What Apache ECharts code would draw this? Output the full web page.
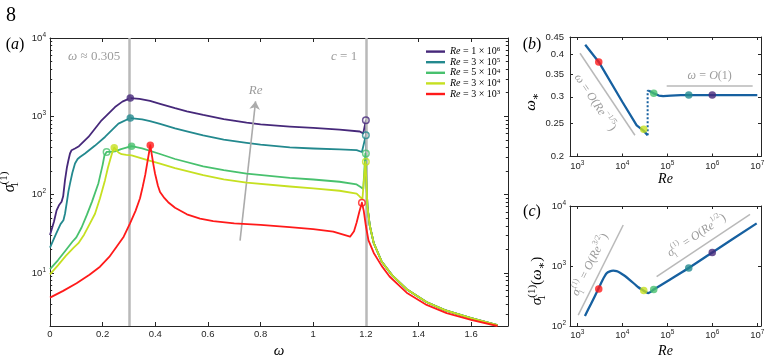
<!DOCTYPE html>
<html><head><meta charset="utf-8">
<script src="https://cdn.jsdelivr.net/npm/echarts@6/dist/echarts.min.js"></script>
<style>html,body{margin:0;padding:0;background:#fff}#c{width:777px;height:362px}</style>
</head><body><div id="c"></div>
<script>
// ================= DATA =================
const COLORS = ['#46287a', '#23898e', '#48c16e', '#c6e021', '#ff1a1a'];
const reMantissa = [1, 3, 5, 3, 3];
const reExponent = [6, 5, 4, 4, 3];

// panel (a): sigma_1^(1) vs omega, one list of [omega, sigma] per Re
const curveRe1e6 = [[0,30.5],[0.015,45],[0.025,63],[0.034,73],[0.044,81],[0.05,95],[0.057,153],[0.064,220],[0.07,275],[0.076,335],[0.082,369],[0.095,388],[0.11,415],[0.146,545],[0.196,889],[0.247,1313],[0.275,1540],[0.305,1710],[0.34,1670],[0.38,1570],[0.418,1440],[0.475,1270],[0.52,1160],[0.582,1040],[0.66,920],[0.747,830],[0.8,790],[0.911,740],[1.0,710],[1.1,675],[1.177,640],[1.19,605],[1.2,889],[1.202,150],[1.206,70],[1.215,40],[1.23,24],[1.26,14],[1.3,9.3],[1.355,6.2],[1.43,4.25],[1.5,3.35],[1.6,2.65],[1.7,2.15]];
const curveRe3e5 = [[0,21],[0.02,30],[0.04,42],[0.051,47],[0.057,57],[0.064,80],[0.07,110],[0.076,138],[0.085,190],[0.095,250],[0.105,285],[0.114,302],[0.133,335],[0.17,420],[0.209,545],[0.26,807],[0.305,950],[0.35,915],[0.38,870],[0.418,800],[0.475,700],[0.52,640],[0.582,570],[0.66,505],[0.747,458],[0.8,435],[0.911,402],[1.0,388],[1.1,378],[1.165,370],[1.185,350],[1.2,573],[1.202,150],[1.206,70],[1.215,40],[1.23,24],[1.26,14],[1.3,9.3],[1.355,6.2],[1.43,4.25],[1.5,3.35],[1.6,2.65],[1.7,2.15]];
const curveRe5e4 = [[0,11.2],[0.03,14.5],[0.06,19.5],[0.085,25],[0.1,28.5],[0.12,38],[0.14,55],[0.16,82],[0.184,140],[0.2,240],[0.207,318],[0.215,351],[0.23,352],[0.247,356],[0.27,380],[0.31,415],[0.35,390],[0.418,330],[0.475,285],[0.582,230],[0.66,205],[0.747,185],[0.911,164],[1.0,156],[1.1,146],[1.165,135],[1.18,125],[1.19,118],[1.198,335],[1.202,150],[1.206,70],[1.215,40],[1.23,24],[1.26,14],[1.3,9.3],[1.355,6.2],[1.43,4.25],[1.5,3.35],[1.6,2.65],[1.7,2.15]];
const curveRe3e4 = [[0,9.6],[0.03,12.5],[0.06,16.5],[0.09,21],[0.108,24],[0.13,31],[0.152,43],[0.171,57],[0.19,90],[0.209,153],[0.22,220],[0.228,275],[0.236,340],[0.244,398],[0.26,345],[0.272,328],[0.29,322],[0.31,318],[0.361,282],[0.418,248],[0.475,218],[0.582,178],[0.66,157],[0.747,142],[0.911,127],[1.0,120],[1.1,112],[1.165,103],[1.177,94],[1.187,88],[1.198,262],[1.202,150],[1.206,70],[1.215,40],[1.23,24],[1.26,14],[1.3,9.3],[1.355,6.2],[1.43,4.25],[1.5,3.35],[1.6,2.65],[1.7,2.15]];
const curveRe3e3 = [[0,4.84],[0.05,5.9],[0.101,7.4],[0.15,9.5],[0.19,12],[0.225,16],[0.253,21.6],[0.28,29],[0.304,43],[0.325,62],[0.342,90],[0.352,125],[0.362,180],[0.37,260],[0.376,340],[0.381,427],[0.387,320],[0.393,240],[0.399,186],[0.41,130],[0.418,108],[0.435,90],[0.449,80],[0.475,68],[0.52,56],[0.57,49.5],[0.62,46],[0.7,43],[0.8,41],[0.91,38.5],[1.0,36.3],[1.076,33.6],[1.14,29],[1.155,34],[1.165,44],[1.175,60],[1.185,79],[1.192,62],[1.2,40],[1.21,26],[1.23,18],[1.26,12.3],[1.29,9],[1.355,5.6],[1.431,3.9],[1.507,3.07],[1.6,2.52],[1.7,2.1]];
const curvesA = [curveRe1e6, curveRe3e5, curveRe5e4, curveRe3e4, curveRe3e3];

// filled markers (omega_*), open markers (c = 1 and others)
const peakOmega = [0.305, 0.305, 0.31, 0.244, 0.381];
const peakSigma = [1710, 950, 415, 398, 427];
const openOmega = [1.2, 1.2, 1.2, 1.2, 1.185, 0.215];
const openSigma = [889, 573, 335, 262, 79, 351];
const openColorIdx = [0, 1, 2, 3, 4, 2];

// annotations panel (a)
const refLinesOmega = [0.305, 1.2];
const reArrowStart = [0.722, 25.8];
const reArrowEnd = [0.781, 1552];

// panel (b): omega_* vs Re
const bReSolid1 = [1500, 3000, 10000, 20900, 30000, 36600];
const bOmegaSolid1 = [0.427, 0.38, 0.29, 0.247, 0.238, 0.231];
const bReDotted = [36600, 36600, 39000];
const bOmegaDotted = [0.231, 0.3125, 0.3125];
const bReSolid2 = [39000, 50000, 65000, 81000, 120000, 200000, 300000, 1000000, 10000000];
const bOmegaSolid2 = [0.3125, 0.307, 0.3025, 0.3013, 0.3025, 0.3034, 0.3035, 0.3035, 0.3035];
const bMarkRe = [1e6, 3e5, 5e4, 3e4, 3e3];
const bMarkOmega = [0.3035, 0.3035, 0.307, 0.2406, 0.38];
const bGuideSteep = [[1150, 0.403], [19100, 0.231]];
const bGuideFlat = [[97000, 0.3234], [7.9e6, 0.3234]];

// panel (c): sigma_1^(1)(omega_*) vs Re
const cRe = [1480, 2000, 2930, 3630, 4490, 5300, 6300, 7500, 8900, 11500, 14800, 22700, 29300, 34000, 38000, 43000, 49000, 300000, 1000000, 9700000];
const cSigma = [147, 231, 412, 580, 755, 815, 835, 820, 774, 680, 584, 442, 392, 365, 355, 372, 402, 925, 1680, 5140];
const cMarkRe = [1e6, 3e5, 5e4, 3e4, 3e3];
const cMarkSigma = [1680, 925, 405, 392, 415];
const cGuideSteep = [[1050, 152], [10500, 4820]];
const cGuideShallow = [[58000, 663], [6.9e6, 7280]];

// tick values
const aXTicks = [0, 0.2, 0.4, 0.6, 0.8, 1, 1.2, 1.4, 1.6];
const aYTicks = [10, 100, 1000, 10000];
const bXTicks = [1e3, 1e4, 1e5, 1e6, 1e7];
const bYTicks = [0.2, 0.25, 0.3, 0.35, 0.4, 0.45];
const cYTicks = [100, 1000, 10000];
const aYMinorTicks = [];
[1, 10, 100, 1000].forEach(d => { for (let k = 2; k <= 9; k++) { if (k * d > 2.1) aYMinorTicks.push(k * d); } });

// ================= STYLE =================
const SERIF = "'Liberation Serif', 'DejaVu Serif', serif";
const SANS = "'Liberation Sans', Arial, sans-serif";
const AX = '#262626';
const GRAY_TXT = '#9c9c9c';
const GRAY_LINE = '#b9b9b9';
const BLUE = '#1660a0';

function richSet(size, color) {
  const sm = Math.round(size * 0.7);
  return {
    i: { fontFamily: SERIF, fontStyle: 'italic', fontSize: size, color: color, fill: color, lineHeight: size + 6 },
    n: { fontFamily: SERIF, fontSize: size, color: color, fill: color, lineHeight: size + 6 },
    s: { fontFamily: SERIF, fontSize: sm, color: color, fill: color, verticalAlign: 'top', lineHeight: 4 },
    u: { fontFamily: SERIF, fontSize: sm, color: color, fill: color, verticalAlign: 'bottom', lineHeight: 4, width: 0.01 },
    v: { fontFamily: SERIF, fontSize: sm, color: color, fill: color, verticalAlign: 'bottom', lineHeight: 4 }
  };
}
const tickRich = {
  b: { fontFamily: SANS, fontSize: 9.5, color: AX, lineHeight: 13 },
  s: { fontFamily: SANS, fontSize: 6.5, color: AX, verticalAlign: 'top', lineHeight: 3 }
};
const powLabel = v => '{b|10}{s|' + Math.round(Math.log10(v)) + '}';
const seriesNames = reMantissa.map((m, i) => 'Re = ' + m + ' x 10^' + reExponent[i]);

function axisBase(gridIndex, type, min, max, position) {
  return {
    gridIndex, type, min, max, position, logBase: 10,
    axisLine: { show: true, onZero: false, lineStyle: { color: AX, width: 1 } },
    splitLine: { show: false }, minorTick: { show: false }
  };
}
function tickOnly(gridIndex, type, min, max, position, ticks, len, line) {
  const a = axisBase(gridIndex, type, min, max, position);
  a.axisLine.show = line;
  a.axisTick = { show: true, inside: true, length: len, customValues: ticks, lineStyle: { color: AX, width: 1 } };
  a.axisLabel = { show: false };
  return a;
}

// ---- x axes ----
const xA = axisBase(0, 'value', 0, 1.74, 'bottom');
xA.axisTick = { show: true, inside: true, length: 4, customValues: aXTicks, lineStyle: { color: AX } };
xA.axisLabel = { customValues: aXTicks, margin: 3, fontFamily: SANS, fontSize: 9.5, color: AX };
xA.name = '{i|ω}'; xA.nameLocation = 'middle'; xA.nameGap = 14; xA.nameTextStyle = { rich: richSet(15, '#000') };

const xB = axisBase(1, 'log', 689, 1.21e7, 'bottom');
xB.axisTick = { show: true, inside: true, length: 3, customValues: bXTicks, lineStyle: { color: AX } };
xB.axisLabel = { customValues: bXTicks, margin: 3, formatter: powLabel, rich: tickRich };
xB.name = '{i|Re}'; xB.nameLocation = 'middle'; xB.nameGap = 8; xB.nameTextStyle = { rich: richSet(14, '#000') };

const xC = axisBase(2, 'log', 689, 1.21e7, 'bottom');
xC.axisTick = { show: true, inside: true, length: 3, customValues: bXTicks, lineStyle: { color: AX } };
xC.axisLabel = { customValues: bXTicks, margin: 3, formatter: powLabel, rich: tickRich };
xC.name = '{i|Re}'; xC.nameLocation = 'middle'; xC.nameGap = 15; xC.nameTextStyle = { rich: richSet(14, '#000') };

const xAxes = [
  xA, tickOnly(0, 'value', 0, 1.74, 'top', aXTicks, 4, true),
  xB, tickOnly(1, 'log', 689, 1.21e7, 'top', bXTicks, 3, true),
  xC, tickOnly(2, 'log', 689, 1.21e7, 'top', bXTicks, 3, true)
];

// ---- y axes ----
const yA = axisBase(0, 'log', 2.1, 10000, 'left');
yA.axisTick = { show: true, inside: true, length: 4, customValues: aYTicks, lineStyle: { color: AX } };
yA.axisLabel = { customValues: aYTicks, margin: 4, formatter: powLabel, rich: tickRich };
yA.name = '{i|σ}{u|1}{s|(1)}'; yA.nameLocation = 'middle'; yA.nameRotate = 90; yA.nameGap = 25;
yA.nameTextStyle = { rich: richSet(16, '#000') };

const yB = axisBase(1, 'log', 0.2, 0.45, 'left');
yB.axisTick = { show: true, inside: true, length: 3, customValues: bYTicks, lineStyle: { color: AX } };
yB.axisLabel = { customValues: bYTicks, margin: 6, fontFamily: SANS, fontSize: 9.5, color: AX };
yB.name = '{i|ω}{v|∗}'; yB.nameLocation = 'middle'; yB.nameRotate = 90; yB.nameGap = 24;
yB.nameTextStyle = { rich: richSet(15, '#000'), padding: [0, 10, 0, 0] };

const yC = axisBase(2, 'log', 100, 10000, 'left');
yC.axisTick = { show: true, inside: true, length: 3, customValues: cYTicks, lineStyle: { color: AX } };
yC.axisLabel = { customValues: cYTicks, margin: 4, formatter: powLabel, rich: tickRich };
yC.name = '{i|σ}{u|1}{s|(1)}{n|(}{i|ω}{v|∗}{n|)}'; yC.nameLocation = 'middle'; yC.nameRotate = 90; yC.nameGap = 21;
yC.nameTextStyle = { rich: richSet(15, '#000'), padding: [0, 30, 0, 0] };

const yAxes = [
  yA,
  tickOnly(0, 'log', 2.1, 10000, 'left', aYMinorTicks, 2.2, false),
  tickOnly(0, 'log', 2.1, 10000, 'right', aYTicks, 4, true),
  tickOnly(0, 'log', 2.1, 10000, 'right', aYMinorTicks, 2.2, false),
  yB, tickOnly(1, 'log', 0.2, 0.45, 'right', bYTicks, 3, true),
  yC, tickOnly(2, 'log', 100, 10000, 'right', cYTicks, 3, true)
];

// ---- series ----
const series = [];
const grayRich = richSet(12, GRAY_TXT);
const grayRich13 = richSet(13, GRAY_TXT);

// panel a reference lines + arrow
series.push({
  type: 'line', xAxisIndex: 0, yAxisIndex: 0, data: [], z: 1, silent: true,
  markLine: {
    silent: true, symbol: ['none', 'none'], animation: false,
    lineStyle: { color: GRAY_LINE, width: 2.5, type: 'solid' }, label: { show: false },
    data: refLinesOmega.map(w => ({ xAxis: w }))
  }
});
series.push({
  type: 'line', xAxisIndex: 0, yAxisIndex: 0, data: [], z: 1, silent: true,
  markLine: {
    silent: true, symbol: ['none', 'arrow'], symbolSize: 8, animation: false,
    lineStyle: { color: '#ababab', width: 1.6, type: 'solid' },
    label: { show: true, position: 'end', distance: 1, formatter: '{i|Re}', rich: richSet(13, GRAY_TXT) },
    data: [[{ coord: reArrowStart }, { coord: reArrowEnd }]]
  }
});

curvesA.forEach((c, i) => {
  series.push({
    name: seriesNames[i], type: 'line', xAxisIndex: 0, yAxisIndex: 0, data: c, z: 3 + i,
    showSymbol: false, symbol: 'none', smooth: false,
    color: COLORS[i], lineStyle: { color: COLORS[i], width: 1.8, join: 'round' }, animation: false
  });
});
series.push({
  type: 'scatter', xAxisIndex: 0, yAxisIndex: 0, z: 10, symbolSize: 7.5,
  data: peakOmega.map((w, i) => ({ value: [w, peakSigma[i]], itemStyle: { color: COLORS[i] } }))
});
series.push({
  type: 'scatter', xAxisIndex: 0, yAxisIndex: 0, z: 10, symbolSize: 6.5,
  data: openOmega.map((w, i) => ({ value: [w, openSigma[i]], itemStyle: { color: 'rgba(255,255,255,0)', borderColor: COLORS[openColorIdx[i]], borderWidth: 1.5 } }))
});

// panel b
series.push({
  type: 'line', xAxisIndex: 2, yAxisIndex: 4, data: [], z: 1, silent: true,
  markLine: {
    silent: true, symbol: ['none', 'none'], animation: false,
    lineStyle: { color: GRAY_LINE, width: 1.5, type: 'solid' },
    data: [
      [{ coord: bGuideSteep[0] }, { coord: bGuideSteep[1], label: { show: true, position: 'insideMiddleBottom', distance: 6, formatter: '{i|ω} {n|= }{i|O}{n|(}{i|Re}{s|−1/5}{n|)}', rich: grayRich } }],
      [{ coord: bGuideFlat[0] }, { coord: bGuideFlat[1], label: { show: true, position: 'insideMiddleTop', distance: 1, formatter: '{i|ω} {n|= }{i|O}{n|(1)}', rich: grayRich } }]
    ]
  }
});
const lineB = (xs, ys, dotted) => ({
  type: 'line', xAxisIndex: 2, yAxisIndex: 4, z: 3, showSymbol: false, symbol: 'none', animation: false,
  data: xs.map((x, i) => [x, ys[i]]),
  lineStyle: { color: BLUE, width: dotted ? 2 : 2.3, type: dotted ? 'dotted' : 'solid' }
});
series.push(lineB(bReSolid1, bOmegaSolid1, false));
series.push(lineB(bReDotted, bOmegaDotted, true));
series.push(lineB(bReSolid2, bOmegaSolid2, false));
series.push({
  type: 'scatter', xAxisIndex: 2, yAxisIndex: 4, z: 10, symbolSize: 7.5,
  data: bMarkRe.map((r, i) => ({ value: [r, bMarkOmega[i]], itemStyle: { color: COLORS[i] } }))
});

// panel c
series.push({
  type: 'line', xAxisIndex: 4, yAxisIndex: 6, data: [], z: 1, silent: true,
  markLine: {
    silent: true, symbol: ['none', 'none'], animation: false,
    lineStyle: { color: GRAY_LINE, width: 1.5, type: 'solid' },
    data: [
      [{ coord: cGuideSteep[0] }, { coord: cGuideSteep[1], label: { show: true, position: 'insideMiddleTop', distance: 3, formatter: '{i|σ}{u|1}{s|(1)} {n|= }{i|O}{n|(}{i|Re}{s|3/2}{n|)}', rich: grayRich } }],
      [{ coord: cGuideShallow[0] }, { coord: cGuideShallow[1], label: { show: true, position: 'insideMiddleTop', distance: 3, formatter: '{i|σ}{u|1}{s|(1)} {n|= }{i|O}{n|(}{i|Re}{s|1/2}{n|)}', rich: grayRich } }]
    ]
  }
});
series.push({
  type: 'line', xAxisIndex: 4, yAxisIndex: 6, z: 3, showSymbol: false, symbol: 'none', animation: false,
  smooth: 0.25, data: cRe.map((r, i) => [r, cSigma[i]]),
  lineStyle: { color: BLUE, width: 2.3 }
});
series.push({
  type: 'scatter', xAxisIndex: 4, yAxisIndex: 6, z: 10, symbolSize: 7.5,
  data: cMarkRe.map((r, i) => ({ value: [r, cMarkSigma[i]], itemStyle: { color: COLORS[i] } }))
});

const legendRich = {
  i: { fontFamily: SERIF, fontStyle: 'italic', fontSize: 10, color: '#000', lineHeight: 11.2 },
  n: { fontFamily: SERIF, fontSize: 10, color: '#000', lineHeight: 11.2 },
  s: { fontFamily: SERIF, fontSize: 7, color: '#000', verticalAlign: 'top', lineHeight: 3 }
};

const option = {
  animation: false,
  backgroundColor: '#fff',
  grid: [
    { left: 50, top: 38, width: 458, height: 288, containLabel: false, outerBoundsMode: 'none' },
    { left: 570, top: 37, width: 191, height: 119.5, containLabel: false, outerBoundsMode: 'none' },
    { left: 570, top: 206, width: 191, height: 120, containLabel: false, outerBoundsMode: 'none' }
  ],
  xAxis: xAxes,
  yAxis: yAxes,
  legend: {
    data: seriesNames, orient: 'vertical', left: 426, top: 46, padding: 0, itemGap: 0,
    itemWidth: 19, itemHeight: 2.4, icon: 'rect', selectedMode: false,
    textStyle: { rich: legendRich },
    formatter: name => {
      const i = seriesNames.indexOf(name);
      return '{i|Re}{n| = ' + reMantissa[i] + ' × 10}{s|' + reExponent[i] + '}';
    }
  },
  graphic: [
    { type: 'text', x: 11, y: 16, style: { text: '8', font: '20px ' + SERIF, fill: '#000', align: 'center', verticalAlign: 'middle' } },
    { type: 'text', x: 15, y: 45, style: { text: '{n|(}{i|a}{n|)}', rich: richSet(16, '#000'), align: 'center', verticalAlign: 'middle' } },
    { type: 'text', x: 532, y: 44.5, style: { text: '{n|(}{i|b}{n|)}', rich: richSet(16, '#000'), align: 'center', verticalAlign: 'middle' } },
    { type: 'text', x: 532, y: 212, style: { text: '{n|(}{i|c}{n|)}', rich: richSet(16, '#000'), align: 'center', verticalAlign: 'middle' } },
    { type: 'text', x: 68, y: 57, style: { text: '{i|ω} {n|≈ 0.305}', rich: grayRich13, fill: GRAY_TXT, align: 'left', verticalAlign: 'middle' } },
    { type: 'text', x: 331, y: 57, style: { text: '{i|c} {n|= 1}', rich: grayRich13, fill: GRAY_TXT, align: 'left', verticalAlign: 'middle' } }
  ],
  series: series
};

const chart = echarts.init(document.getElementById('c'), null, { renderer: 'canvas', width: 777, height: 362 });
chart.setOption(option);
</script>
</body></html>
